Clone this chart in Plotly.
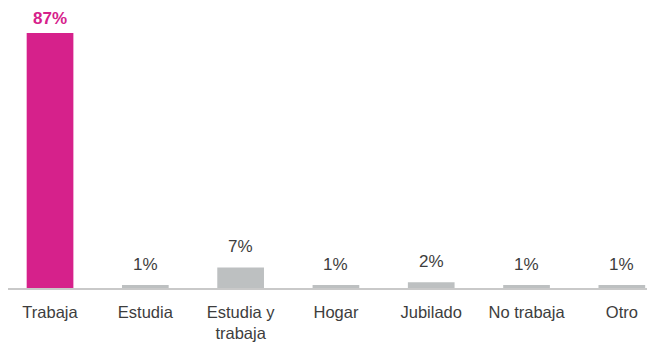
import plotly.graph_objects as go

# Situación laboral
categorias = ["Trabaja", "Estudia", "Estudia y<br>trabaja", "Hogar", "Jubilado", "No trabaja", "Otro"]
porcentajes = [87, 1, 7, 1, 2, 1, 1]
etiquetas = ["87%", "1%", "7%", "1%", "2%", "1%", "1%"]

MAGENTA = "#d6218b"
GRIS = "#bdc0c1"
TEXTO = "#3d3d3d"
FUENTE = "Liberation Sans, Arial, sans-serif"

colores = [MAGENTA] + [GRIS] * (len(categorias) - 1)

fig = go.Figure(
    go.Bar(
        x=categorias,
        y=porcentajes,
        marker_color=colores,
        marker_line_width=0,
        width=0.49,
        hoverinfo="skip",
    )
)

# Etiquetas de valor sobre cada barra
for i, (cat, val, txt) in enumerate(zip(categorias, porcentajes, etiquetas)):
    destacado = i == 0
    fig.add_annotation(
        x=cat,
        y=val,
        text=f"<b>{txt}</b>" if destacado else txt,
        showarrow=False,
        yanchor="bottom",
        yshift=3 if destacado else 9,
        font=dict(size=17, color=MAGENTA if destacado else TEXTO, family=FUENTE),
    )

# the page body has an 8px margin, so the figure is sized to the visible area
fig.update_layout(
    width=647,
    height=345,
    margin=dict(l=0, r=0, t=0, b=65),
    plot_bgcolor="white",
    paper_bgcolor="white",
    showlegend=False,
    font=dict(family=FUENTE, size=16, color=TEXTO),
    xaxis=dict(
        range=[-0.441, 6.348],
        showline=True,
        linecolor="#c9c9c9",
        linewidth=2,
        ticks="outside",
        ticklen=8,
        tickcolor="rgba(0,0,0,0)",
        tickfont=dict(size=16.5, color=TEXTO),
        showgrid=False,
        zeroline=False,
    ),
    yaxis=dict(
        range=[0, 95.5],
        visible=False,
        showgrid=False,
        zeroline=False,
    ),
)

fig.write_html("out.html")
